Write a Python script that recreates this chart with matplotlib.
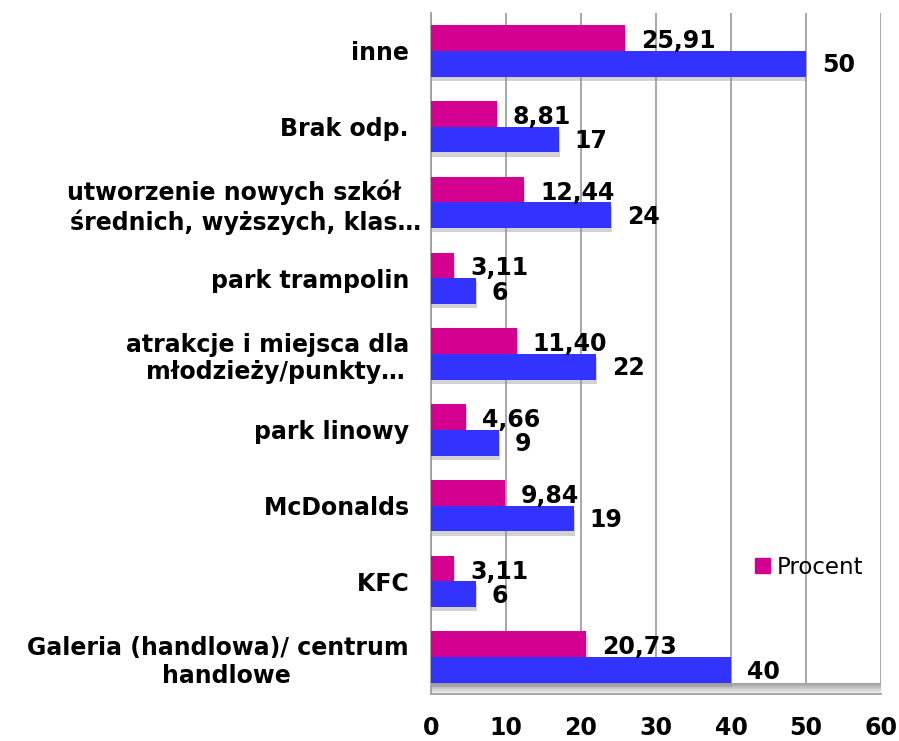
import matplotlib
matplotlib.use("Agg")
import matplotlib.pyplot as plt
import matplotlib.patheffects as pe
from matplotlib.patches import Patch
import numpy as np

categories = ["Galeria (handlowa)/ centrum  \nhandlowe", "KFC  ", "McDonalds  ", "park linowy  ",
              "atrakcje i miejsca dla  \nmłodzieży/punkty…", "park trampolin  ",
              "utworzenie nowych szkół   \nśrednich, wyższych, klas…", "Brak odp.  ", "inne  "]
procent = [20.73, 3.11, 9.84, 4.66, 11.40, 3.11, 12.44, 8.81, 25.91]
liczba = [40, 6, 19, 9, 22, 6, 24, 17, 50]
procent_labels = ["20,73", "3,11", "9,84", "4,66", "11,40", "3,11", "12,44", "8,81", "25,91"]
liczba_labels = ["40", "6", "19", "9", "22", "6", "24", "17", "50"]
xticks = [0, 10, 20, 30, 40, 50, 60]

MAGENTA = "#D4008F"
BLUE = "#3333FF"
GRID = "#A0A0A0"

fig = plt.figure(figsize=(8.99, 7.41), dpi=100)
ax = fig.add_axes([431/899, 1-694/741, 450/899, 681/741])

y = np.arange(len(categories))
h = 0.34
shadow = [pe.SimplePatchShadow(offset=(0.8, -3), shadow_rgbFace="#909090", alpha=0.4), pe.Normal()]
b1 = ax.barh(y + h/2, procent, height=h, color=MAGENTA, zorder=3)
b2 = ax.barh(y - h/2, liczba, height=h, color=BLUE, zorder=3)
for b in list(b1) + list(b2):
    b.set_path_effects(shadow)

for yi, v, t in zip(y, procent, procent_labels):
    ax.text(v + 2.1, yi + h/2 - 0.04, t, ha="left", va="center", fontsize=17,
            fontweight="bold", color="black", zorder=5)
for yi, v, t in zip(y, liczba, liczba_labels):
    ax.text(v + 2.1, yi - h/2 - 0.02, t, ha="left", va="center", fontsize=17,
            fontweight="bold", color="black", zorder=5)

ax.set_xlim(0, 60)
ax.set_ylim(-0.485, 8.5)
ax.set_xticks(xticks)
ax.set_xticklabels([str(t) for t in xticks], fontsize=17, fontweight="bold")
ax.set_yticks(y)
ax.set_yticklabels(categories, fontsize=17, fontweight="bold", multialignment="center")
ax.tick_params(axis="y", length=0, pad=4)
ax.tick_params(axis="x", length=0, pad=16)

ax.xaxis.grid(True, color=GRID, linewidth=1.3, zorder=0)
ax.set_axisbelow(True)
for s in ["top", "right"]:
    ax.spines[s].set_visible(False)
for s in ["left", "bottom"]:
    ax.spines[s].set_color(GRID)
    ax.spines[s].set_linewidth(1.3)

# floor gradient
grad = np.linspace(0.62, 0.97, 50).reshape(-1, 1)
ax.imshow(np.dstack([grad, grad, grad]), extent=[0, 1, 0, 11/681], transform=ax.transAxes,
          aspect="auto", zorder=1)
ax.set_xlim(0, 60)
ax.set_ylim(-0.485, 8.5)

leg = ax.legend(handles=[Patch(color=MAGENTA)], labels=["Procent"], loc="center left",
                bbox_to_anchor=(0.675, 0.186), frameon=False, fontsize=16.5,
                handlelength=0.65, handleheight=0.65, handletextpad=0.3)

fig.savefig("out.png", dpi=100)
